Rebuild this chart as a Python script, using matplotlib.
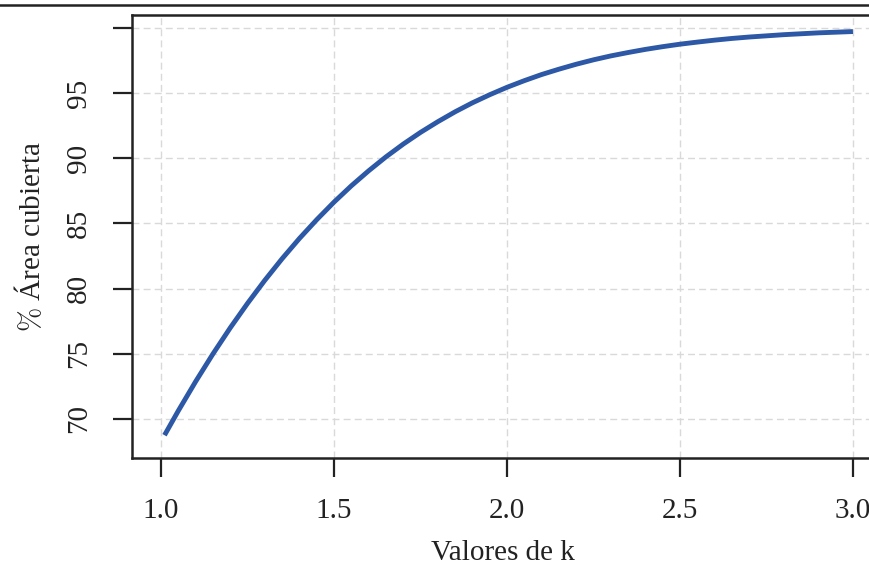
import matplotlib
matplotlib.use("Agg")
import matplotlib.pyplot as plt
from matplotlib.lines import Line2D

# Porcentaje del área bajo la curva normal dentro de ±k desviaciones
k_values = [1.01, 1.05, 1.10, 1.15, 1.20, 1.25, 1.30, 1.35, 1.40, 1.45, 1.50,
            1.55, 1.60, 1.65, 1.70, 1.75, 1.80, 1.85, 1.90, 1.95, 2.00,
            2.05, 2.10, 2.15, 2.20, 2.25, 2.30, 2.35, 2.40, 2.45, 2.50,
            2.55, 2.60, 2.65, 2.70, 2.75, 2.80, 2.85, 2.90, 2.95, 3.00]
area_pct = [68.75, 70.63, 72.87, 74.99, 76.99, 78.87, 80.64, 82.30, 83.85, 85.29, 86.64,
            87.89, 89.04, 90.11, 91.09, 91.99, 92.81, 93.57, 94.26, 94.88, 95.45,
            95.96, 96.43, 96.84, 97.22, 97.56, 97.86, 98.12, 98.36, 98.57, 98.76,
            98.92, 99.07, 99.20, 99.31, 99.40, 99.49, 99.56, 99.63, 99.68, 99.73]

x_ticks = [1.0, 1.5, 2.0, 2.5, 3.0]
x_tick_labels = ["1.0", "1.5", "2.0", "2.5", "3.0"]
y_ticks = [70, 75, 80, 85, 90, 95, 100]
y_tick_labels = ["70", "75", "80", "85", "90", "95", ""]

plt.rcParams["font.family"] = ["Liberation Serif", "DejaVu Serif"]
plt.rcParams["mathtext.fontset"] = "cm"

fig = plt.figure(figsize=(8.7, 5.7), dpi=100)
ax = fig.add_axes([132 / 870, 1 - 458 / 570, (873 - 132) / 870, (458 - 15) / 570])

ax.plot(k_values, area_pct, color="#2c58a6", lw=3.5, solid_capstyle="butt", zorder=3)

ax.set_xlim(0.916, 3.058)
ax.set_ylim(67.0, 101.0)

ax.set_xticks(x_ticks)
ax.set_xticklabels(x_tick_labels)
ax.set_yticks(y_ticks)
ax.set_yticklabels(y_tick_labels, rotation=90, va="center")

ax.grid(True, color="#d9d9d9", linestyle=(0, (5, 3)), lw=1.0, zorder=0)
ax.set_axisbelow(True)

for side in ("left", "bottom", "top"):
    ax.spines[side].set_linewidth(1.8)
    ax.spines[side].set_color("#222222")
ax.spines["right"].set_visible(False)

ax.tick_params(axis="both", direction="out", length=14, width=1.6, color="#222222",
               labelsize=21, labelcolor="#222222", pad=15)

ax.set_xlabel("Valores de k", fontsize=21, color="#222222", labelpad=11)
ax.set_ylabel(r"$\%$ Área cubierta", fontsize=21, color="#222222", labelpad=14)

fig.add_artist(Line2D([0, 1], [1 - 5 / 570, 1 - 5 / 570], transform=fig.transFigure,
                      color="#222222", lw=1.8))

fig.savefig("out.png", dpi=100)
